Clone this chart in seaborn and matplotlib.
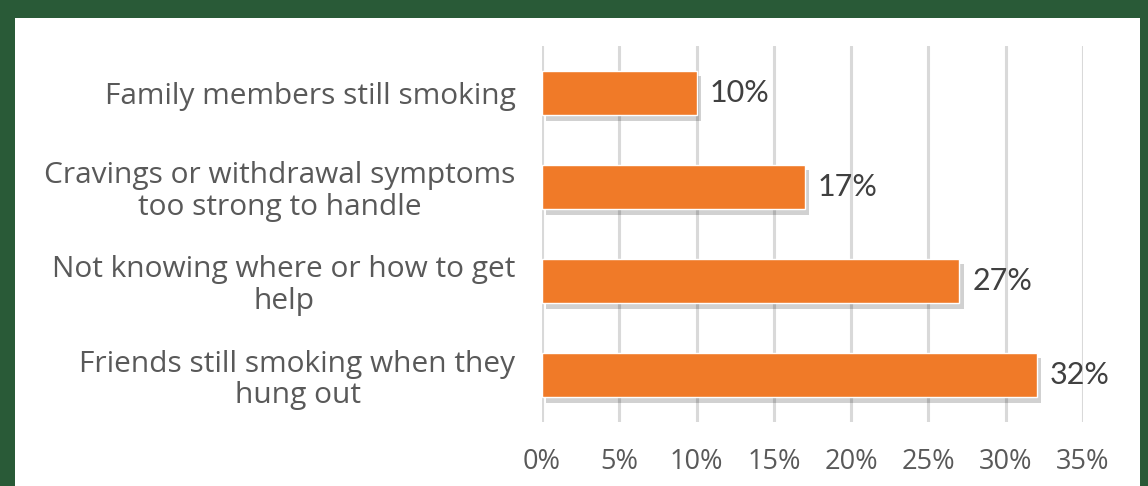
import matplotlib
matplotlib.use("Agg")
import matplotlib.pyplot as plt
import matplotlib.patheffects as pe
from matplotlib.patches import Rectangle
import seaborn as sns

categories = [
    "Family members still smoking",
    "Cravings or withdrawal symptoms\ntoo strong to handle",
    "Not knowing where or how to get\nhelp",
    "Friends still smoking when they\nhung out",
]
values = [10, 17, 27, 32]
xticks = [0, 5, 10, 15, 20, 25, 30, 35]
xticklabels = [f"{t}%" for t in xticks]

sns.set_theme(style="white")
plt.rcParams["font.family"] = ["Lato", "DejaVu Sans"]

W, H = 1148, 486
fig = plt.figure(figsize=(W / 100, H / 100), dpi=100, facecolor="#295a37")
fig.patches.append(Rectangle((15 / W, 0), (1140 - 15) / W, (H - 18) / H,
                             transform=fig.transFigure, facecolor="white",
                             edgecolor="none", zorder=-10))
ax = fig.add_axes([542 / W, (H - 422) / H, (1083 - 542) / W, (422 - 46) / H])
ax.set_facecolor("none")
ax.set_zorder(5)

sns.barplot(x=values, y=categories, ax=ax, color="#F07A28", width=0.47,
            saturation=1, orient="h", zorder=3)
for p in ax.patches:
    p.set_path_effects([pe.SimplePatchShadow(offset=(3, -4), shadow_rgbFace="#000000", alpha=0.18),
                        pe.Normal()])

ax.set_xlim(0, 35)
ax.set_ylim(3.5, -0.5)
ax.set_xticks(xticks)
ax.set_xticklabels(xticklabels, fontsize=19.5, color="#595959", family=["Open Sans"])
ax.tick_params(axis="x", length=0, pad=19)
ax.tick_params(axis="y", length=0, pad=19)
for lab in ax.get_yticklabels():
    lab.set_fontsize(21.5)
    lab.set_family(["Open Sans"])
    lab.set_color("#595959")
    lab.set_multialignment("center")
    lab.set_linespacing(1.1)
ax.set_xlabel("")
ax.set_ylabel("")
ax.grid(axis="x", color="#d9d9d9", linewidth=2.2, zorder=0)
ax.grid(axis="y", visible=False)
for s in ax.spines.values():
    s.set_visible(False)

for i, v in enumerate(values):
    ax.text(v + 0.85, i, f"{v}%", va="center", ha="left", fontsize=22,
            color="#404040")

fig.savefig("out.png", dpi=100, facecolor=fig.get_facecolor())
